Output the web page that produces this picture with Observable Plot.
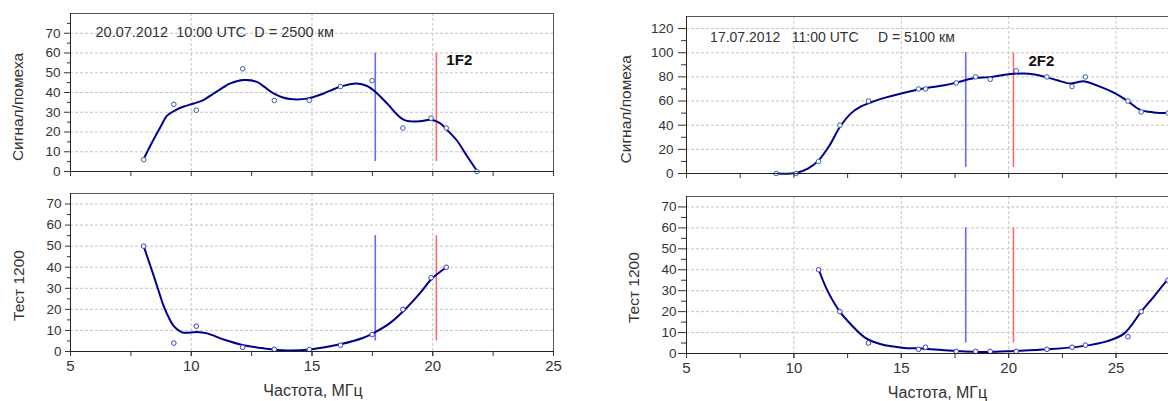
<!DOCTYPE html>
<html><head><meta charset="utf-8">
<script src="https://cdn.jsdelivr.net/npm/d3@7"></script>
<script src="https://cdn.jsdelivr.net/npm/@observablehq/plot@0.6"></script>
<style>
html,body{margin:0;padding:0;background:#fff;overflow:hidden;width:1168px;height:401px}
#root{position:relative;width:1168px;height:401px}
.pnl{position:absolute}
svg text{white-space:pre}
</style></head><body><div id="root"></div>
<script>
// ---------- texts ----------
const titleL = "20.07.2012  10:00 UTC  D = 2500 км";
const titleR = "17.07.2012   11:00 UTC     D = 5100 км";
const snrTitle = "Сигнал/помеха";
const testTitle = "Тест 1200";
const xTitle = "Частота, МГц";
const modeL = ["1F2"];
const modeR = ["2F2"];

// ---------- left chart (20.07.2012) ----------
const freqL = [8.03, 9.28, 10.21, 12.13, 13.44, 14.89, 16.18, 17.49, 18.76, 19.93, 20.56, 21.83];
const snrL  = [6, 34, 31, 52, 36, 36, 43, 46, 22, 27, 22, 0];
const testFreqL = [8.03, 9.28, 10.21, 12.13, 13.44, 14.89, 16.18, 17.49, 18.76, 19.93, 20.56];
const testL = [50, 4, 12, 2, 1, 1, 3, 8, 20, 35, 40];
const snrCurveL = [[8.03,6.3],[8.38,14.8],[8.72,22.4],[9.0,28.3],[9.34,31.0],[9.69,32.9],[10.1,34.4],[10.52,36.3],[10.93,39.5],[11.34,42.7],[11.62,44.6],[12.17,46.3],[12.72,45.4],[13.0,43.1],[13.41,39.5],[13.76,37.6],[14.09,36.7],[14.79,36.9],[15.48,39.5],[16.16,42.9],[16.86,44.6],[17.28,43.3],[17.62,40.4],[17.96,36.3],[18.24,32.7],[18.52,28.8],[18.86,25.9],[19.48,25.4],[19.89,26.2],[20.3,24.5],[20.65,20.3],[21.0,15.7],[21.41,8.0],[21.83,0.4]];
const testCurveL = [[8.03,50],[8.24,42.9],[8.45,35.8],[8.65,28.7],[8.86,21.5],[9.07,16.1],[9.28,12.0],[9.48,10.0],[9.69,8.9],[10.24,9.3],[10.66,8.6],[11.34,5.7],[12.17,3.0],[13.0,1.5],[13.96,0.5],[14.93,1.0],[16.17,3.4],[17.13,6.5],[17.62,9.2],[18.24,13.6],[18.79,19.2],[19.48,27.8],[19.93,34.2],[20.56,40]];
const linesL = {blue: 17.62, red: 20.15};
const snrLinesSpanL = [5, 60];
const testLinesSpanL = [5, 55];

// ---------- right chart (17.07.2012) ----------
const freqR = [9.17, 10.10, 11.15, 12.14, 13.47, 15.80, 16.13, 17.56, 18.46, 19.14, 20.35, 21.78, 22.95, 23.57, 25.55, 26.17, 27.42];
const snrR  = [0, 0, 10, 40, 60, 70, 70, 75, 80, 78, 85, 80, 72, 80, 60, 51, 50];
const testFreqR = [11.15, 12.14, 13.47, 15.80, 16.13, 17.56, 18.46, 19.14, 20.35, 21.78, 22.95, 23.57, 25.55, 26.17, 27.42];
const testR = [40, 20, 5, 2, 3, 1, 1, 1, 1, 2, 3, 4, 8, 20, 35];
const snrCurveR = [[9.17,0],[10.1,0.5],[10.65,4],[11.15,10.9],[11.66,23.3],[12.14,38.5],[12.67,50],[13.13,55.5],[13.6,59],[14.3,63],[15.0,66.3],[15.8,69.5],[16.24,71],[17.0,73],[17.5,75],[18.42,79],[19.1,79.8],[20.0,82.2],[20.7,82.8],[21.2,82],[21.74,79.8],[22.3,77],[22.87,74.5],[23.2,75.5],[23.49,76.4],[24.31,71.5],[25.0,66],[25.5,60.5],[26.12,52.7],[26.76,50.6],[27.44,50]];
const testCurveR = [[11.16,40],[11.55,30.3],[12.14,20],[12.69,13.5],[13.31,7.6],[14.06,4.4],[15.03,2.8],[16.11,2.3],[17.54,1.2],[19.02,0.7],[20.26,1.2],[21.81,2.0],[23.36,3.4],[24.6,5.9],[25.37,9.5],[26.17,20],[26.75,27.1],[27.44,35.9]];
const linesR = {blue: 18.0, red: 20.22};
const snrLinesSpanR = [5, 100];
const testLinesSpanR = [5, 60];

// ---------- axes ticks ----------
const xLabelTicks = [5, 10, 15, 20, 25];
const xGridL = [10, 15, 20];
const xGridR = [10, 15, 20, 25];
const yTicks70 = [0, 10, 20, 30, 40, 50, 60, 70];
const yMinor70 = [5, 15, 25, 35, 45, 55, 65, 75];
const yTicks120 = [0, 20, 40, 60, 80, 100, 120];
const yMinor120 = [10, 30, 50, 70, 90, 110, 130];

const FONT = "'Liberation Sans', Arial, Helvetica, sans-serif";
const toObj = (fs, vs) => fs.map((f, i) => ({f, v: vs[i]}));
const pairObj = arr => arr.map(([f, v]) => ({f, v}));

function panel(o) {
  const xd = o.xDomain, yd = o.yDomain;
  const inX = v => v >= xd[0] - 1e-9 && v <= xd[1] + 1e-9;
  const minorX = [];
  for (let k = 0; k <= 10; k++) { const v = 5 + 2.5 * k; if (inX(v)) minorX.push(v); }
  const vl = [{f: o.lines.blue, lo: o.span[0], hi: o.span[1]}];
  const vr = [{f: o.lines.red, lo: o.span[0], hi: o.span[1]}];
  const marks = [
    Plot.gridX(o.gridX, {stroke: "#c4c4c4", strokeOpacity: 1, strokeDasharray: "3,2"}),
    Plot.gridY(o.gridY, {stroke: "#c4c4c4", strokeOpacity: 1, strokeDasharray: "3,2"}),
    Plot.ruleX(vl, {x: "f", y1: "lo", y2: "hi", stroke: "#6868ff", strokeWidth: 1.6}),
    Plot.ruleX(vr, {x: "f", y1: "lo", y2: "hi", stroke: "#ff6a6a", strokeWidth: 1.6}),
    Plot.line(o.curve, {x: "f", y: "v", curve: "catmull-rom", stroke: "#000090", strokeWidth: 2}),
    Plot.dot(o.pts, {x: "f", y: "v", r: 2.3, stroke: o.dotColor, fill: "white", strokeWidth: 1}),
    Plot.ruleY([yd[1]], {stroke: "#555"}),
    Plot.ruleY([yd[0]], {stroke: "#222"}),
    Plot.ruleX([xd[0]], {stroke: "#222"}),
    o.rightBorder ? Plot.ruleX([xd[1]], {stroke: "#555"}) : null,
    Plot.axisY(o.yTicks, {tickSize: o.tickY, tickPadding: o.padY, fontSize: 13.5, label: null}),
    Plot.axisY(o.yMinor.filter(v => v < yd[1]), {tickSize: o.tickYMinor, text: null, label: null}),
    Plot.axisX(minorX, {tickSize: 5, text: null, label: null}),
    o.showXLabels ? Plot.axisX(xLabelTicks.filter(inX), {tickSize: 5, tickPadding: 4, fontSize: 15, label: null}) : null,
    o.showXLabels ? Plot.text([xTitle], {frameAnchor: "bottom", textAnchor: "middle", lineAnchor: "middle", dx: o.xTitleDx, dy: 39.5, fontSize: 16, fill: "#333"}) : null,
    Plot.text([o.yTitle], {frameAnchor: "left", textAnchor: "middle", lineAnchor: "middle", rotate: -90, dx: o.yTitleDx, dy: o.yTitleDy, fontSize: 15.5, fill: "#333"}),
    o.title ? Plot.text([o.title], {frameAnchor: "top-left", textAnchor: "start", lineAnchor: "middle", dx: o.titleDx, dy: o.titleDy, fontSize: o.titleSize, fill: "#333"}) : null,
    o.mode ? Plot.text(o.mode, {x: [o.lines.red], y: [o.modeY], textAnchor: "start", lineAnchor: "middle", dx: o.modeDx, dy: o.modeDy, fontSize: 15, fontWeight: "bold", fill: "#111"}) : null
  ];
  const chart = Plot.plot({
    width: o.width, height: o.height,
    marginLeft: o.ml, marginRight: o.mr, marginTop: o.mt, marginBottom: o.mb,
    x: {domain: xd},
    y: {domain: yd},
    style: {fontFamily: FONT, fontSize: "13px", color: "#333", background: "transparent", overflow: "visible"},
    marks
  });
  chart.classList.add("pnl");
  chart.style.left = o.left + "px";
  chart.style.top = o.top + "px";
  document.getElementById("root").appendChild(chart);
}

// left top
panel({left: 0, top: 0, width: 580, height: 180, ml: 70, mr: 27, mt: 13, mb: 9,
  xDomain: [5, 25], yDomain: [0, 80], yTicks: yTicks70, yMinor: yMinor70, tickY: 6, tickYMinor: 3, padY: 4,
  gridX: xGridL, gridY: yTicks70.slice(1), curve: pairObj(snrCurveL), pts: toObj(freqL, snrL), dotColor: "#2d62ae",
  lines: linesL, span: snrLinesSpanL, rightBorder: true, showXLabels: false,
  yTitle: snrTitle, yTitleDx: -52, yTitleDy: 14.5,
  title: titleL, titleDx: 25, titleDy: 19.3, titleSize: 14.5,
  mode: modeL, modeY: 60, modeDx: 10, modeDy: 7});
// left bottom
panel({left: 0, top: 180, width: 580, height: 221, ml: 70, mr: 27, mt: 13, mb: 50,
  xDomain: [5, 25], yDomain: [0, 75], yTicks: yTicks70, yMinor: yMinor70, tickY: 5, tickYMinor: 3, padY: 4,
  gridX: xGridL, gridY: yTicks70.slice(1), curve: pairObj(testCurveL), pts: toObj(testFreqL, testL), dotColor: "#3a3ad0",
  lines: linesL, span: testLinesSpanL, rightBorder: true, showXLabels: true, xTitleDx: 1,
  yTitle: testTitle, yTitleDx: -51, yTitleDy: 13});
// right top
panel({left: 590, top: 0, width: 578, height: 180, ml: 96, mr: 0, mt: 16, mb: 7,
  xDomain: [5, 27.44], yDomain: [0, 130], yTicks: yTicks120, yMinor: yMinor120, tickY: 8, tickYMinor: 5, padY: 5,
  gridX: xGridR, gridY: yTicks120.slice(1), curve: pairObj(snrCurveR), pts: toObj(freqR, snrR), dotColor: "#2d62ae",
  lines: linesR, span: snrLinesSpanR, rightBorder: false, showXLabels: false,
  yTitle: snrTitle, yTitleDx: -60, yTitleDy: 14.3,
  title: titleR, titleDx: 23.6, titleDy: 20.7, titleSize: 14,
  mode: modeR, modeY: 100, modeDx: 15, modeDy: 8});
// right bottom
panel({left: 590, top: 180, width: 578, height: 221, ml: 96, mr: 0, mt: 16, mb: 48,
  xDomain: [5, 27.44], yDomain: [0, 75], yTicks: yTicks70, yMinor: yMinor70, tickY: 8, tickYMinor: 5, padY: 2,
  gridX: xGridR, gridY: yTicks70.slice(1), curve: pairObj(testCurveR), pts: toObj(testFreqR, testR), dotColor: "#3a3ad0",
  lines: linesR, span: testLinesSpanR, rightBorder: false, showXLabels: true, xTitleDx: 10,
  yTitle: testTitle, yTitleDx: -52, yTitleDy: 12.6});
</script>
</body></html>
